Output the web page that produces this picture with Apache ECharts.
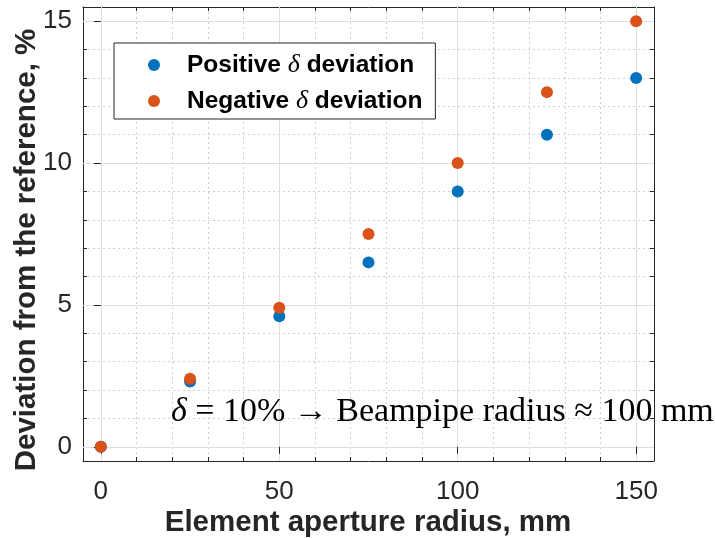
<!DOCTYPE html>
<html>
<head>
<meta charset="utf-8">
<script src="https://cdn.jsdelivr.net/npm/echarts@6/dist/echarts.min.js"></script>
<style>
  html, body { margin: 0; padding: 0; background: #fff; }
  #chart { width: 715px; height: 538px; }
</style>
</head>
<body>
<div id="chart"></div>
<script>
// element aperture radius, mm
const radius = [0, 25, 50, 75, 100, 125, 150];
// deviation from the reference, %
const positiveDev = [0, 2.3, 4.6, 6.5, 9, 11, 13];
const negativeDev = [0, 2.4, 4.9, 7.5, 10, 12.5, 15];

const xMajorTicks = [0, 50, 100, 150];
const xMinorTicks = [0, 10, 20, 30, 40, 50, 60, 70, 80, 90, 100, 110, 120, 130, 140, 150];
const yMajorTicks = [0, 5, 10, 15];
const yMinorTicks = [0, 1, 2, 3, 4, 5, 6, 7, 8, 9, 10, 11, 12, 13, 14, 15];

const axisColor = '#262626';
const font = 'Liberation Sans';

function pairs(xs, ys) {
  return xs.map((x, i) => [x, ys[i]]);
}

// one axis carries labels + dotted minor grid, one the opposite-side ticks,
// one the solid major grid
function xAxes() {
  const base = { type: 'value', min: -5, max: 155, axisLine: { show: true, onZero: false, lineStyle: { color: axisColor, width: 1 } } };
  return [
    Object.assign({}, base, {
      position: 'bottom',
      axisTick: { show: true, inside: true, length: 4, customValues: xMinorTicks, lineStyle: { color: axisColor } },
      axisLabel: { show: true, customValues: xMajorTicks, color: axisColor, fontFamily: font, fontSize: 26, margin: 18 },
      splitLine: { show: true, lineStyle: { color: '#d0d0d0', type: [2, 3], width: 1 } }
    }),
    Object.assign({}, base, {
      position: 'top',
      axisTick: { show: true, inside: true, length: 4, customValues: xMinorTicks, lineStyle: { color: axisColor } },
      axisLabel: { show: false },
      splitLine: { show: false }
    }),
    Object.assign({}, base, {
      position: 'top',
      z: 1,
      axisLine: { show: false },
      axisTick: { show: true, inside: true, length: 7, customValues: xMajorTicks, lineStyle: { color: axisColor } },
      axisLabel: { show: false },
      splitLine: { show: true, lineStyle: { color: '#dedede', width: 1 } }
    })
  ];
}

function yAxes() {
  const base = { type: 'value', min: -0.5, max: 15.5, axisLine: { show: true, onZero: false, lineStyle: { color: axisColor, width: 1 } } };
  return [
    Object.assign({}, base, {
      position: 'left',
      axisTick: { show: true, inside: true, length: 4, customValues: yMinorTicks, lineStyle: { color: axisColor } },
      axisLabel: { show: true, customValues: yMajorTicks, color: axisColor, fontFamily: font, fontSize: 26, margin: 11 },
      splitLine: { show: true, lineStyle: { color: '#d0d0d0', type: [2, 3], width: 1 } }
    }),
    Object.assign({}, base, {
      position: 'right',
      axisTick: { show: true, inside: true, length: 4, customValues: yMinorTicks, lineStyle: { color: axisColor } },
      axisLabel: { show: false },
      splitLine: { show: false }
    }),
    Object.assign({}, base, {
      position: 'right',
      z: 1,
      axisLine: { show: false },
      axisTick: { show: true, inside: true, length: 7, customValues: yMajorTicks, lineStyle: { color: axisColor } },
      axisLabel: { show: false },
      splitLine: { show: true, lineStyle: { color: '#dedede', width: 1 } }
    })
  ];
}

const chart = echarts.init(document.getElementById('chart'), null, { renderer: 'canvas' });

chart.setOption({
  animation: false,
  backgroundColor: '#ffffff',
  grid: {
    left: 83, top: 7, right: 61, bottom: 77,
    containLabel: false,
    outerBoundsMode: 'none',
    show: true,
    backgroundColor: '#ffffff',
    borderColor: axisColor,
    borderWidth: 0
  },
  legend: {
    orient: 'vertical',
    left: 114,
    top: 43,
    padding: [9, 13, 5, 34],
    itemWidth: 56,
    itemHeight: 12,
    itemGap: 10,
    backgroundColor: '#ffffff',
    borderColor: axisColor,
    borderWidth: 1,
    borderRadius: 0,
    data: ['Positive δ deviation', 'Negative δ deviation'],
    formatter: name => name.replace('δ', '{d|δ}'),
    textStyle: {
      color: '#000000',
      fontFamily: font,
      fontWeight: 'bold',
      fontSize: 24.5,
      lineHeight: 24,
      rich: {
        d: { fontFamily: 'Liberation Serif', fontStyle: 'italic', fontWeight: 'normal', fontSize: 26, lineHeight: 24, color: '#000000' }
      }
    }
  },
  xAxis: xAxes(),
  yAxis: yAxes(),
  series: [
    {
      name: 'Positive δ deviation',
      type: 'scatter',
      xAxisIndex: 0,
      yAxisIndex: 0,
      symbol: 'circle',
      symbolSize: 12,
      itemStyle: { color: '#0072BD', opacity: 1 },
      data: pairs(radius, positiveDev),
      z: 3
    },
    {
      name: 'Negative δ deviation',
      type: 'scatter',
      xAxisIndex: 0,
      yAxisIndex: 0,
      symbol: 'circle',
      symbolSize: 12,
      itemStyle: { color: '#D95319', opacity: 1 },
      data: pairs(radius, negativeDev),
      z: 4
    }
  ],
  graphic: [
    {
      type: 'text',
      x: 368,
      y: 523,
      style: {
        text: 'Element aperture radius, mm',
        fill: axisColor,
        font: 'bold 29.5px "Liberation Sans"',
        textAlign: 'center',
        textVerticalAlign: 'middle'
      }
    },
    {
      type: 'text',
      x: 27,
      y: 250,
      rotation: Math.PI / 2,
      style: {
        text: 'Deviation from the reference, %',
        fill: axisColor,
        font: 'bold 29.5px "Liberation Sans"',
        textAlign: 'center',
        textVerticalAlign: 'middle'
      }
    },
    {
      type: 'text',
      x: 171,
      y: 412,
      z: 10,
      style: {
        text: '{d|δ} = 10% → Beampipe radius ≈ 100 mm',
        fill: '#000000',
        font: '34px "Liberation Serif"',
        textVerticalAlign: 'middle',
        rich: {
          d: { fontFamily: 'Liberation Serif', fontStyle: 'italic', fontSize: 34, fill: '#000000' }
        }
      }
    }
  ]
});
</script>
</body>
</html>
